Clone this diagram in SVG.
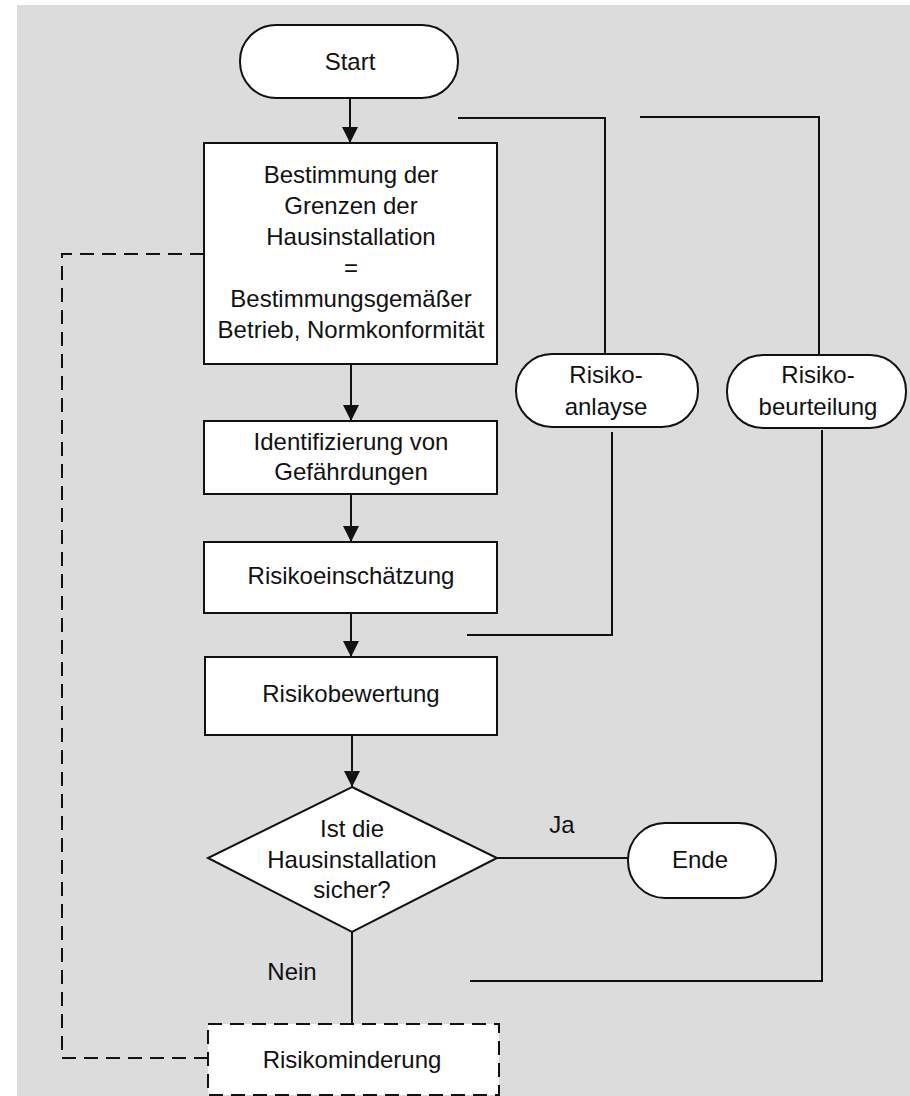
<svg xmlns="http://www.w3.org/2000/svg" width="910" height="1096" viewBox="0 0 910 1096">
<defs>
<style>
.shape{fill:#fff;stroke:#111;stroke-width:2}
.dash{fill:#fff;stroke:#111;stroke-width:2;stroke-dasharray:14 8}
.line{fill:none;stroke:#111;stroke-width:2}
.dline{fill:none;stroke:#111;stroke-width:2;stroke-dasharray:14 8}
text{font-family:"Liberation Sans",Arial,sans-serif;font-size:24px;fill:#111;text-anchor:middle}
</style>
<marker id="arr" markerUnits="userSpaceOnUse" markerWidth="16" markerHeight="16" refX="16" refY="8" orient="auto">
<path d="M0,0 L16,8 L0,16 z" fill="#111"/>
</marker>
</defs>
<rect x="0" y="0" width="910" height="1096" fill="#fff"/>
<rect x="17" y="5" width="893" height="1091" fill="#dcdcdc"/>

<g id="connectors">
<line class="line" x1="350" y1="98" x2="350" y2="143" marker-end="url(#arr)"/>
<line class="line" x1="351" y1="364" x2="351" y2="421" marker-end="url(#arr)"/>
<line class="line" x1="351" y1="494" x2="351" y2="542" marker-end="url(#arr)"/>
<line class="line" x1="351" y1="613" x2="351" y2="657" marker-end="url(#arr)"/>
<line class="line" x1="352" y1="735" x2="352" y2="787" marker-end="url(#arr)"/>
<line class="line" x1="497" y1="858" x2="628" y2="858"/>
<line class="line" x1="352" y1="932" x2="352" y2="1024"/>
<polyline class="line" points="458,118 605,118 605,354"/>
<polyline class="line" points="612,432 612,635 467,635"/>
<polyline class="line" points="640,117 819,117 819,355"/>
<polyline class="line" points="822,430 822,981 470,981"/>
<polyline class="dline" points="208,1058 62,1058 62,254 204,254"/>
<text x="562" y="833">Ja</text>
<text x="292" y="980">Nein</text>
</g>

<g id="start">
<rect class="shape" x="240" y="25" width="218" height="73" rx="36" ry="36"/>
<text x="350" y="70">Start</text>
</g>

<g id="grenzen">
<rect class="shape" x="204" y="143" width="293" height="221"/>
<text x="351" y="183">Bestimmung der</text>
<text x="351" y="214">Grenzen der</text>
<text x="351" y="245">Hausinstallation</text>
<text x="351" y="276">=</text>
<text x="351" y="307">Bestimmungsgemäßer</text>
<text x="351" y="338">Betrieb, Normkonformität</text>
</g>

<g id="identifizierung">
<rect class="shape" x="204" y="421" width="293" height="73"/>
<text x="351" y="450">Identifizierung von</text>
<text x="351" y="480">Gefährdungen</text>
</g>

<g id="einschaetzung">
<rect class="shape" x="204" y="542" width="293" height="71"/>
<text x="351" y="584">Risikoeinschätzung</text>
</g>

<g id="bewertung">
<rect class="shape" x="205" y="657" width="292" height="78"/>
<text x="351" y="702">Risikobewertung</text>
</g>

<g id="entscheidung">
<polygon class="shape" points="352,787 497,858 352,932 208,858"/>
<text x="352" y="837">Ist die</text>
<text x="352" y="868">Hausinstallation</text>
<text x="352" y="898">sicher?</text>
</g>

<g id="ende">
<rect class="shape" x="628" y="823" width="148" height="75" rx="37" ry="37"/>
<text x="700" y="868">Ende</text>
</g>

<g id="risikoanalyse">
<rect class="shape" x="516" y="354" width="182" height="73" rx="36" ry="36"/>
<text x="606" y="383">Risiko-</text>
<text x="606" y="415">anlayse</text>
</g>

<g id="risikobeurteilung">
<rect class="shape" x="727" y="355" width="179" height="73" rx="36" ry="36"/>
<text x="818" y="383">Risiko-</text>
<text x="818" y="415">beurteilung</text>
</g>

<g id="risikominderung">
<rect class="dash" x="208" y="1024" width="291" height="71"/>
<text x="352" y="1068">Risikominderung</text>
</g>
</svg>
